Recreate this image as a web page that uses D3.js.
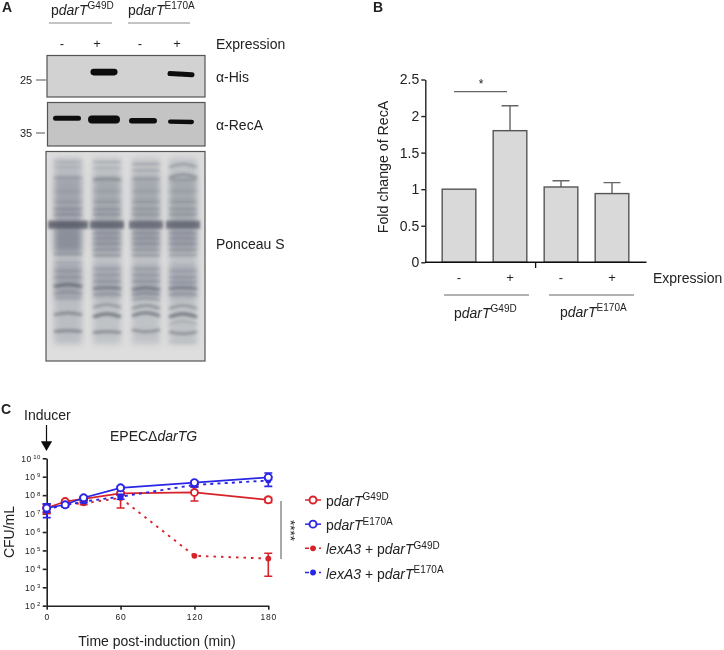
<!DOCTYPE html>
<html><head><meta charset="utf-8">
<script src="https://cdn.jsdelivr.net/npm/d3@7"></script>
<style>html,body{margin:0;padding:0;background:#fff}svg{display:block;font-family:"Liberation Sans",Arial,sans-serif;fill:#222}</style>
</head><body><div id="chart"></div>
<script>
// ---------- Panel A data: lanes and band readings ----------
const lanes = ["G49D -", "G49D +", "E170A -", "E170A +"];
const hisBands = [null, {pos:40, thick:6.6, len:27, tilt:0}, null, {pos:45, thick:5, len:27, tilt:1.2}];
const recaBands = [{pos:36, thick:5, len:28, tilt:0},{pos:39, thick:8, len:32, tilt:0},{pos:42, thick:5.4, len:28, tilt:0},{pos:44.5, thick:4.4, len:26, tilt:0.4}];
const ponceauLane1 = [[5,.2,0],[7.5,.18,0],[12.5,.3,0],[19,.18,0],[24,.25,0],[27.5,.35,0],[30,.35,0],[35,.85,0],[49,.38,0],[53,.2,0],[57,.25,0],[60,.28,0],[63.5,.7,2],[67,.3,2],[70,.2,0],[77,.55,2],[85.5,.55,1]];
const ponceauLane2 = [[5,.25,0],[8,.22,0],[13,.45,1],[19,.2,0],[24,.28,0],[27.5,.35,0],[30,.35,0],[35,.8,0],[39,.35,0],[41.5,.35,0],[44,.35,0],[47,.35,0],[49.5,.45,0],[56,.25,0],[59,.3,0],[62,.35,0],[65,.6,1],[68,.35,1],[73,.45,3],[77.5,.7,3],[86,.55,1]];
const ponceauLane3 = [[6,.3,0],[9,.3,0],[13,.3,0],[19,.2,0],[24,.28,0],[27.5,.3,0],[30,.3,0],[35,.75,0],[39,.35,0],[41.5,.35,0],[44,.35,0],[47,.3,0],[49.5,.4,0],[56,.25,0],[59,.3,0],[62,.35,0],[65,.65,2],[67.5,.45,2],[70,.35,2],[73.5,.5,3],[77,.65,3],[86,.5,-2]];
const ponceauLane4 = [[6,.4,3],[11,.45,3],[13.5,.3,0],[19,.2,0],[24,.28,0],[27.5,.3,0],[30,.3,0],[35,.78,0],[39,.35,0],[41.5,.35,0],[44,.35,0],[47,.32,0],[49.5,.38,0],[57,.25,0],[60,.3,0],[62.5,.35,0],[65,.6,1],[68,.35,1],[73.5,.45,3],[77.5,.7,3],[81,.25,3],[87,.5,-2],[91,.15,0]];
const ponceauLanes = [ponceauLane1, ponceauLane2, ponceauLane3, ponceauLane4];
const ponceauSmears = [[[3,92,.28],[36,48,.55],[12,34,.28],[54,70,.3]],[[3,92,.24],[36,48,.35],[12,34,.28],[54,70,.26]],[[3,92,.24],[36,48,.35],[12,34,.28],[54,70,.26]],[[3,92,.24],[36,48,.35],[12,34,.28],[54,70,.26]]];
const laneSigns = ["-", "+", "-", "+"];

// ---------- Panel B data ----------
const recaCategories = ["a", "b", "c", "d"];
const recaSigns = ["-", "+", "-", "+"];
const recaMeans = [1.0, 1.8, 1.03, 0.94];
const recaErrTops = [null, 2.14, 1.115, 1.09];
const recaTicks = [0, 0.5, 1, 1.5, 2, 2.5];

// ---------- Panel C data ----------
const times = [0, 15, 30, 60, 120, 180];
const tG49D = [2e7, 4.5e7, 6.3e7, 1.25e8, 1.4e8, 5.6e7];
const tE170A = [2e7, 3e7, 7.2e7, 2.5e8, 4.8e8, 9.3e8];
const lexG49D = [2e7, 3.2e7, 3.6e7, 7e7, 5.1e4, 3.6e4];
const lexE170A = [1.8e7, 2.8e7, 4.5e7, 8.3e7, 3.6e8, 6.2e8];
const tG49DLo = [1.0e7, 3.6e7, 5e7, 1e8, 4.8e7, 4e7];
const tG49DHi = [3e7, 5.5e7, 7.5e7, 1.5e8, 2.8e8, 7.5e7];
const tE170ALo = [1.2e7, 2.4e7, 6e7, 2.1e8, 4e8, 7e8];
const tE170AHi = [3.4e7, 3.8e7, 8.6e7, 3e8, 5.8e8, 1.6e9];
const lexG49DLo = [1.2e7, 2.8e7, 3e7, 2e7, null, 4e3];
const lexG49DHi = [3e7, 3.8e7, 4.4e7, 1e8, null, 7e4];
const lexE170ALo = [6e6, 2.3e7, 3.8e7, 6e7, 2.8e8, 3e8];
const lexE170AHi = [3.4e7, 3.4e7, 5.4e7, 1.1e8, 4.6e8, 1e9];
const logTicks = [1e2,1e3,1e4,1e5,1e6,1e7,1e8,1e9,1e10];
const timeTicks = [0, 60, 120, 180];
const RED = "#d7242c", BLUE = "#2a25e6";
const seriesC = [
  {name:"lexG", vals:lexG49D, lo:lexG49DLo, hi:lexG49DHi, color:RED, dash:"2.5 5", open:false},
  {name:"tG", vals:tG49D, lo:tG49DLo, hi:tG49DHi, color:RED, dash:null, open:true},
  {name:"lexE", vals:lexE170A, lo:lexE170ALo, hi:lexE170AHi, color:BLUE, dash:"3 4.2", open:false},
  {name:"tE", vals:tE170A, lo:tE170ALo, hi:tE170AHi, color:BLUE, dash:null, open:true}
];
const legendRows = [
  {s:seriesC[1], parts:[["p"],["darT","i"],["G49D","s"]]},
  {s:seriesC[3], parts:[["p"],["darT","i"],["E170A","s"]]},
  {s:seriesC[0], parts:[["lexA3","i"],[" + p"],["darT","i"],["G49D","s"]]},
  {s:seriesC[2], parts:[["lexA3","i"],[" + p"],["darT","i"],["E170A","s"]]}
];

// ---------- helpers ----------
const svg = d3.select("#chart").append("svg").attr("width",724).attr("height",650);
const defs = svg.append("defs");
[["b05",.6],["b09",1.35],["b3",3],["soft",.35]].forEach(([id,s])=>
  defs.append("filter").attr("id",id).attr("filterUnits","userSpaceOnUse").attr("x",0).attr("y",0).attr("width",724).attr("height",650)
    .append("feGaussianBlur").attr("stdDeviation",s));
const root = svg.append("g").attr("filter","url(#soft)");
function txt(g,x,y,t,size,o={}){
  return g.append("text").attr("x",x).attr("y",y).attr("font-size",size)
   .attr("text-anchor",o.anchor||"start").attr("font-weight",o.bold?"bold":null).text(t);
}
function rich(g,x,y,parts,size,supSize){
  const t=g.append("text").attr("x",x).attr("y",y).attr("font-size",size);
  parts.forEach(([s,k])=>{
    const sp=t.append("tspan").text(s).style("white-space","pre");
    if(k==="i")sp.attr("font-style","italic");
    if(k==="s"){sp.attr("font-size",supSize).attr("dy",-size*0.4);}
  });
  return t;
}
const pdar = m => [["p"],["darT","i"],[m,"s"]];

// ---------- Panel A ----------
const A = root.append("g");
txt(A,2,12,"A",14,{bold:true});
rich(A,51,15,pdar("G49D"),14,10);
rich(A,128,15,pdar("E170A"),14,10);
A.selectAll("line.u").data([[49,112],[128,190]]).join("line").attr("x1",d=>d[0]).attr("x2",d=>d[1]).attr("y1",23).attr("y2",23).attr("stroke","#8a8a8a").attr("stroke-width",1.2);
const signX = d3.scaleOrdinal().domain(lanes).range([62,97,140,177]);
A.selectAll("text.sign").data(lanes).join("text").attr("class","sign").attr("x",d=>signX(d)).attr("y",48).attr("text-anchor","middle").attr("font-size",13).text((d,i)=>laneSigns[i]);
txt(A,216,49,"Expression",14);
txt(A,216,82,"α-His",14);
txt(A,216,130,"α-RecA",14);
txt(A,216,249,"Ponceau S",14);
txt(A,20,84,"25",11);txt(A,20,137,"35",11);
[[36,46,80],[36,45,133]].forEach(d=>A.append("line").attr("x1",d[0]).attr("x2",d[1]).attr("y1",d[2]).attr("y2",d[2]).attr("stroke","#555").attr("stroke-width",1));

function blot(x0,x1,y0,y1,bands,bandX,bg){
  const y=d3.scaleLinear().domain([0,100]).range([y0,y1]);
  A.append("rect").attr("x",x0).attr("y",y0).attr("width",x1-x0).attr("height",y1-y0).attr("fill",bg);
  const g=A.append("g").attr("filter","url(#b05)");
  g.selectAll("line").data(bands.map((b,i)=>b?{...b,l:lanes[i]}:null).filter(Boolean)).join("line")
    .attr("x1",d=>bandX(d.l)-d.len/2+d.thick/2).attr("x2",d=>bandX(d.l)+d.len/2-d.thick/2)
    .attr("y1",d=>y(d.pos)-d.tilt/2).attr("y2",d=>y(d.pos)+d.tilt/2)
    .attr("stroke","#0c0c0c").attr("stroke-width",d=>d.thick).attr("stroke-linecap","round");
  A.append("rect").attr("x",x0).attr("y",y0).attr("width",x1-x0).attr("height",y1-y0).attr("fill","none").attr("stroke","#555").attr("stroke-width",1.2);
}
const wbX = d3.scaleOrdinal().domain(lanes).range([67,104,143,181]);
blot(47,205,55.5,97,hisBands,wbX,"#d2d2d2");
blot(47.5,205,102.5,146,recaBands,wbX,"#c4c4c4");

// Ponceau
const py = d3.scaleLinear().domain([0,100]).range([151.5,361]);
const pX = d3.scaleOrdinal().domain(lanes).range([68,107,146,183]);
A.append("rect").attr("x",46).attr("y",151.5).attr("width",159).attr("height",209.5).attr("fill","#dedede");
const sm=A.append("g").attr("filter","url(#b3)");
lanes.forEach((l,i)=>{
  sm.selectAll(null).data(ponceauSmears[i]).join("rect")
    .attr("x",pX(l)-14).attr("width",28).attr("y",d=>py(d[0])).attr("height",d=>py(d[1])-py(d[0]))
    .attr("fill","#62677a").attr("opacity",d=>d[2]);
});
const pb=A.append("g").attr("filter","url(#b09)");
const arc=d3.line().curve(d3.curveNatural);
lanes.forEach((l,i)=>{
  pb.selectAll(null).data(ponceauLanes[i]).join("path")
    .attr("d",d=>{
      const wide=d[0]===35?(i===0?20:17):14;
      const c=pX(l),yy=py(d[0]);
      return arc([[c-wide,yy+d[2]],[c,yy],[c+wide,yy+d[2]]]);
    })
    .attr("fill","none").attr("stroke","#4a4f5c")
    .attr("stroke-width",d=>d[0]===35?8:1.4+d[1]*2.4)
    .attr("opacity",d=>d[1]*0.9);
});
A.append("rect").attr("x",46).attr("y",151.5).attr("width",159).attr("height",209.5).attr("fill","none").attr("stroke","#555").attr("stroke-width",1.2);

// ---------- Panel B ----------
const B=root.append("g");
txt(B,373,12,"B",14,{bold:true});
const by=d3.scaleLinear().domain([0,2.5]).range([262.3,79.5]);
const bx=d3.scaleBand().domain(recaCategories).range([433.5,637.5]).paddingInner(0.34).paddingOuter(0.17);
B.selectAll("path.err").data(recaCategories.filter((c,i)=>recaErrTops[i]!==null)).join("path")
  .attr("d",c=>{const i=recaCategories.indexOf(c),m=bx(c)+bx.bandwidth()/2;
     return `M${m},${by(recaMeans[i])}V${by(recaErrTops[i])}M${m-8.5},${by(recaErrTops[i])}H${m+8.5}`;})
  .attr("fill","none").attr("stroke","#666").attr("stroke-width",1.4);
B.selectAll("rect.bar").data(recaCategories).join("rect")
  .attr("x",c=>bx(c)).attr("width",bx.bandwidth())
  .attr("y",(c,i)=>by(recaMeans[i])).attr("height",(c,i)=>by(0)-by(recaMeans[i]))
  .attr("fill","#d9d9d9").attr("stroke","#555").attr("stroke-width",1.4);
const bAxis=B.append("g").attr("transform","translate(425.3,0)").call(d3.axisLeft(by).tickValues(recaTicks).tickFormat(d=>d).tickSize(4).tickSizeOuter(0));
bAxis.selectAll("text").attr("font-size",14).attr("font-family","inherit").attr("fill","#222").attr("x",-6);
bAxis.selectAll("line,path").attr("stroke","#222").attr("stroke-width",1.4);
B.append("line").attr("x1",425).attr("x2",646.5).attr("y1",262.3).attr("y2",262.3).attr("stroke","#111").attr("stroke-width",1.6);
B.append("line").attr("x1",535.6).attr("x2",535.6).attr("y1",262.3).attr("y2",268).attr("stroke","#111").attr("stroke-width",1.3);
B.selectAll("text.s").data(recaCategories).join("text").attr("class","s").attr("x",c=>bx(c)+bx.bandwidth()/2).attr("y",282).attr("text-anchor","middle").attr("font-size",13).text((c,i)=>recaSigns[i]);
txt(B,653,283,"Expression",14);
[[444,529],[549,634]].forEach(d=>B.append("line").attr("x1",d[0]).attr("x2",d[1]).attr("y1",295).attr("y2",295).attr("stroke","#666").attr("stroke-width",1));
rich(B,454,318,pdar("G49D"),14,10);
rich(B,560,317,pdar("E170A"),14,10);
B.append("text").attr("transform","translate(388,167) rotate(-90)").attr("text-anchor","middle").attr("font-size",14.2).text("Fold change of RecA");
B.append("line").attr("x1",454).attr("x2",507).attr("y1",91.7).attr("y2",91.7).attr("stroke","#666").attr("stroke-width",1.2);
txt(B,481,88,"*",12,{anchor:"middle"});

// ---------- Panel C ----------
const C=root.append("g");
txt(C,1,414,"C",14,{bold:true});
txt(C,24,420,"Inducer",14);
C.append("line").attr("x1",46.5).attr("x2",46.5).attr("y1",425).attr("y2",443).attr("stroke","#111").attr("stroke-width",1.2);
C.append("path").attr("d",d3.symbol(d3.symbolTriangle,55)()).attr("transform","translate(46.5,444.5) rotate(180)").attr("fill","#111");
rich(C,110,441,[["EPECΔ"],["darTG","i"]],14,10);
const cy=d3.scaleLog().domain([1e2,1e10]).range([605.7,458.3]);
const cx=d3.scaleLinear().domain([0,180]).range([46.7,268.3]);
const yA=C.append("g").attr("transform","translate(46.7,0)").call(d3.axisLeft(cy).tickValues(logTicks).tickFormat(()=>"").tickSize(4).tickSizeOuter(0));
yA.selectAll("line,path").attr("stroke","#222").attr("stroke-width",1.6);
yA.selectAll("g.tick text").each(function(d){
  const t=d3.select(this).attr("x",-6).attr("font-size",8.5).attr("font-family","inherit").attr("fill","#222").attr("letter-spacing",.4);
  t.append("tspan").text("10");
  t.append("tspan").attr("font-size",6).attr("dy",-2.8).attr("dx",1.6).text(Math.round(Math.log10(d)));
});
const xA=C.append("g").attr("transform","translate(0,605.7)").call(d3.axisBottom(cx).tickValues(timeTicks).tickFormat(d=>d).tickSize(4).tickSizeOuter(0));
xA.selectAll("line,path").attr("stroke","#222").attr("stroke-width",1.6);
xA.selectAll("text").attr("font-size",8.5).attr("font-family","inherit").attr("fill","#222").attr("letter-spacing",.8).attr("y",8);
C.append("text").attr("transform","translate(14,532) rotate(-90)").attr("text-anchor","middle").attr("font-size",14).text("CFU/mL");
txt(C,157,646,"Time post-induction (min)",14,{anchor:"middle"});
const ln=d3.line().x((d,i)=>cx(times[i])).y(d=>cy(d));
function marker(g,x,y,s){
  g.append("circle").attr("cx",x).attr("cy",y).attr("r",s.open?3.5:2.9)
   .attr("fill",s.open?"#fff":s.color).attr("stroke",s.color).attr("stroke-width",s.open?1.9:0);
}
seriesC.forEach(s=>{
  const g=C.append("g");
  g.append("path").attr("d",ln(s.vals)).attr("fill","none").attr("stroke",s.color).attr("stroke-width",s.dash?1.9:1.7).attr("stroke-dasharray",s.dash);
  times.forEach((t,i)=>{
    if(s.lo[i]===null)return;
    const x=cx(t);
    g.append("path").attr("d",`M${x},${cy(s.lo[i])}V${cy(s.hi[i])}M${x-4},${cy(s.lo[i])}H${x+4}M${x-4},${cy(s.hi[i])}H${x+4}`)
      .attr("fill","none").attr("stroke",s.color).attr("stroke-width",1.6);
  });
  times.forEach((t,i)=>marker(g,cx(t),cy(s.vals[i]),s));
});
C.append("line").attr("x1",281).attr("x2",281).attr("y1",501).attr("y2",559).attr("stroke","#555").attr("stroke-width",1);
C.append("text").attr("transform","translate(286,520) rotate(90)").attr("font-size",13.5).text("****");
const legendY=d3.scalePoint().domain(d3.range(4)).range([500,572.5]);
legendRows.forEach((r,i)=>{
  const y=legendY(i),g=C.append("g");
  g.append("line").attr("x1",305).attr("x2",321).attr("y1",y).attr("y2",y).attr("stroke",r.s.color).attr("stroke-width",1.5).attr("stroke-dasharray",r.s.dash?"4 3":null);
  marker(g,313,y,r.s);
  rich(g,326,y+6,r.parts,14,10);
});
</script></body></html>
